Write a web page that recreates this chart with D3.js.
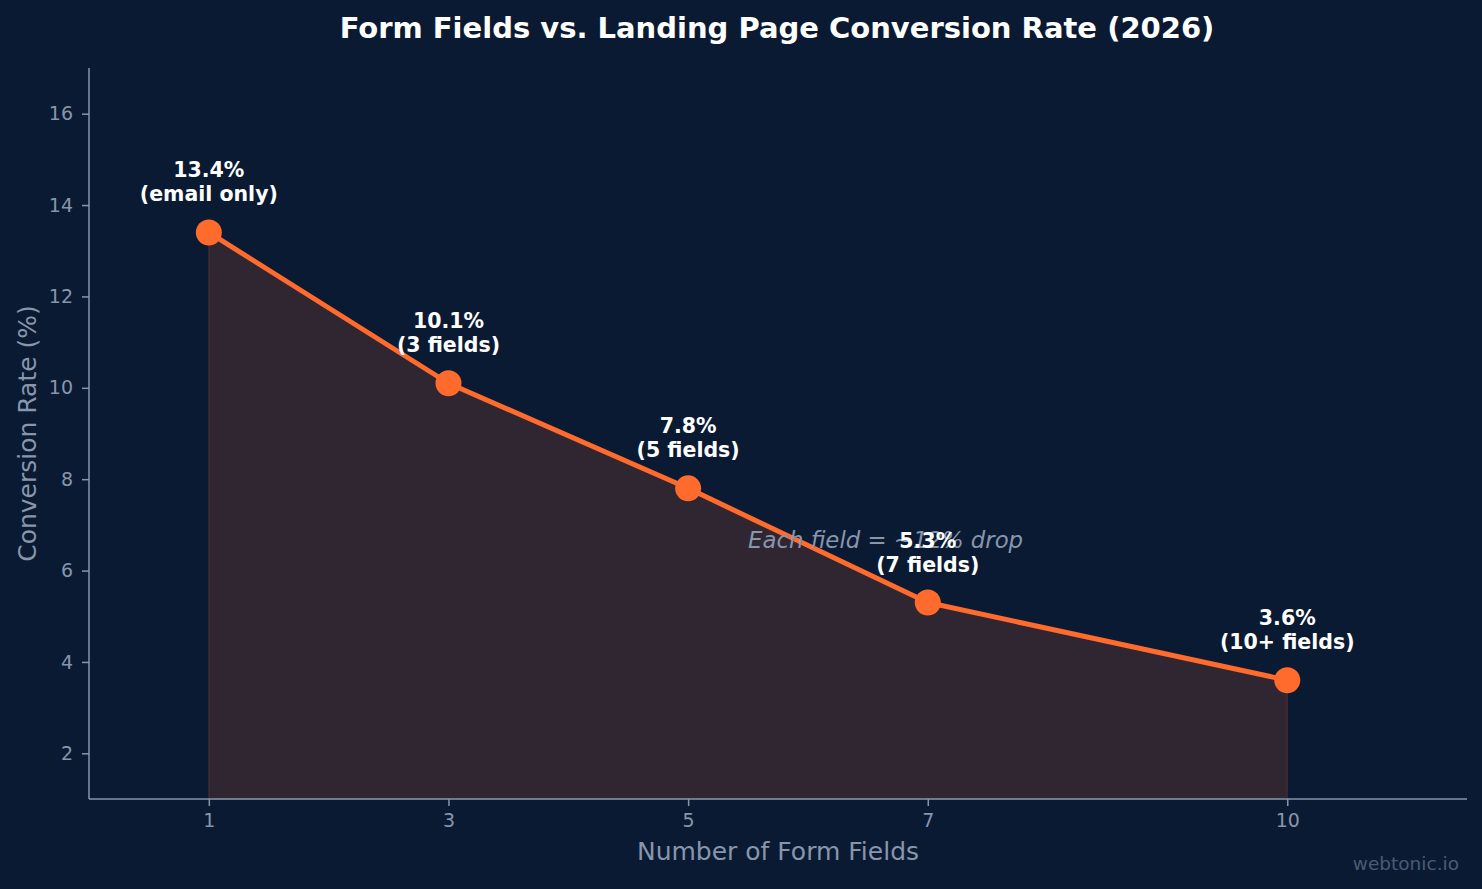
<!DOCTYPE html>
<html><head><meta charset="utf-8">
<script src="https://cdn.jsdelivr.net/npm/d3@7"></script>
<style>
html,body{margin:0;padding:0;background:#0b1a33;}
svg{display:block;font-family:"DejaVu Sans",sans-serif;}
.tk text{font-size:19px !important;font-family:"DejaVu Sans",sans-serif !important;}
</style></head>
<body>
<script>
const fields = [1, 3, 5, 7, 10];
const rates = [13.4, 10.1, 7.8, 5.3, 3.6];
const pointLabels = ["(email only)", "(3 fields)", "(5 fields)", "(7 fields)", "(10+ fields)"];
const xTicks = [1, 3, 5, 7, 10];
const yTicks = [2, 4, 6, 8, 10, 12, 14, 16];
const annotation = { x: 5.5, y: 6.5, text: "Each field = ~12% drop" };

const W = 1482, H = 889;
const m = { left: 89, right: 15, top: 68, bottom: 90 };
const svg = d3.select("body").append("svg").attr("width", W).attr("height", H);
svg.append("rect").attr("width", W).attr("height", H).attr("fill", "#0b1a33");

const x = d3.scaleLinear().domain([0, 11.5]).range([m.left, W - m.right]);
const y = d3.scaleLinear().domain([1, 17]).range([H - m.bottom, m.top]);
const data = fields.map((f, i) => ({ f, r: rates[i], l: pointLabels[i] }));

const gray = "#8796ab";
const orange = "#ff6b2c";

// area
svg.append("path").datum(data)
  .attr("d", d3.area().x(d => x(d.f)).y0(y(1)).y1(d => y(d.r)))
  .attr("fill", orange).attr("fill-opacity", 0.15)
  .attr("stroke", orange).attr("stroke-opacity", 0.15).attr("stroke-width", 1.5);

// axes
const xAxis = svg.append("g").attr("class", "tk").attr("transform", `translate(0,${y(1)})`)
  .call(d3.axisBottom(x).tickValues(xTicks).tickSize(7).tickPadding(8).tickFormat(d3.format("d")));
const yAxis = svg.append("g").attr("class", "tk").attr("transform", `translate(${x(0)},0)`)
  .call(d3.axisLeft(y).tickValues(yTicks).tickSize(7).tickPadding(9).tickFormat(d3.format("d")));
[xAxis, yAxis].forEach(g => {
  g.attr("font-size", 19).attr("font-family", "DejaVu Sans");
  g.selectAll("path,line").attr("stroke", gray).attr("stroke-width", 1.5);
  g.selectAll("text").attr("fill", gray);
});
xAxis.select(".domain").attr("d", `M${x(0)},0H${x(11.5)}`);
yAxis.select(".domain").attr("d", `M0,${y(17)}V${y(1)}`);

// line
svg.append("path").datum(data)
  .attr("d", d3.line().x(d => x(d.f)).y(d => y(d.r)))
  .attr("fill", "none").attr("stroke", orange).attr("stroke-width", 5).attr("stroke-linejoin", "round");

// annotation (drawn before point labels)
svg.append("text").attr("x", x(annotation.x)).attr("y", y(annotation.y))
  .attr("fill", gray).attr("font-size", 22.8).attr("font-style", "italic")
  .text(annotation.text);

// markers
svg.selectAll("circle.pt").data(data).join("circle")
  .attr("cx", d => x(d.f)).attr("cy", d => y(d.r)).attr("r", 13).attr("fill", orange);

// labels
const lab = svg.selectAll("text.lab").data(data).join("text")
  .attr("text-anchor", "middle").attr("fill", "#ffffff").attr("font-weight", "bold").attr("font-size", 20.5);
lab.append("tspan").attr("x", d => x(d.f)).attr("y", d => y(d.r) - 55).text(d => d.r.toFixed(1) + "%");
lab.append("tspan").attr("x", d => x(d.f)).attr("y", d => y(d.r) - 31).text(d => d.l);

// title
svg.append("text").attr("x", 777).attr("y", 38)
  .attr("text-anchor", "middle").attr("fill", "#ffffff").attr("font-weight", "bold").attr("font-size", 29)
  .text("Form Fields vs. Landing Page Conversion Rate (2026)");

// axis titles
svg.append("text").attr("x", x(0) + (x(11.5) - x(0)) / 2).attr("y", 860)
  .attr("text-anchor", "middle").attr("fill", gray).attr("font-size", 25).text("Number of Form Fields");
svg.append("text").attr("transform", `translate(36,${(y(1) + y(17)) / 2}) rotate(-90)`)
  .attr("text-anchor", "middle").attr("fill", gray).attr("font-size", 25).text("Conversion Rate (%)");

// watermark
svg.append("text").attr("x", 1459).attr("y", 870).attr("text-anchor", "end")
  .attr("fill", "#4a5a73").attr("font-size", 18.5).text("webtonic.io");
</script>
</body></html>
